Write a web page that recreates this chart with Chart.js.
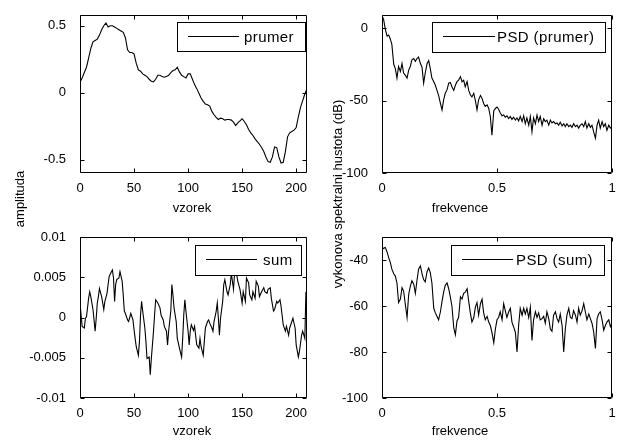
<!DOCTYPE html>
<html>
<head>
<meta charset="utf-8">
<script src="https://cdn.jsdelivr.net/npm/chart.js@4.4.0/dist/chart.umd.min.js"></script>
<style>
html,body{margin:0;padding:0;background:#fff;}
#wrap{position:relative;width:619px;height:441px;overflow:hidden;background:#fff;}
#wrap canvas{position:absolute;left:0;top:0;}
</style>
</head>
<body>
<div id="wrap">
<canvas id="c1" width="619" height="441"></canvas>
<canvas id="c2" width="619" height="441"></canvas>
<canvas id="c3" width="619" height="441"></canvas>
<canvas id="c4" width="619" height="441"></canvas>
</div>
<script>
// ---------- data ----------
const sampleX = [0,2,4,6,8,10,12,14,16,18,20,22,24,26,28,30,32,34,36,38,40,42,44,46,48,50,52,54,56,58,60,62,64,66,68,70,72,74,76,78,80,82,84,86,88,90,92,94,96,98,100,102,104,106,108,110,112,114,116,118,120,122,124,126,128,130,132,134,136,138,140,142,144,146,148,150,152,154,156,158,160,162,164,166,168,170,172,174,176,178,180,182,184,186,188,190,192,194,196,198,200,202,204,206,208,210];
const prumer = [0.08,0.11,0.15,0.19,0.26,0.33,0.38,0.39,0.40,0.43,
0.47,0.50,0.52,0.49,0.50,0.50,0.49,0.48,0.47,0.46,
0.45,0.41,0.32,0.30,0.30,0.29,0.22,0.17,0.16,0.14,
0.13,0.12,0.10,0.085,0.08,0.10,0.13,0.13,0.12,0.115,
0.12,0.13,0.15,0.165,0.17,0.19,0.155,0.13,0.12,0.11,
0.14,0.14,0.10,0.06,0.03,-0.005,-0.04,-0.065,-0.085,-0.09,
-0.10,-0.14,-0.165,-0.185,-0.20,-0.19,-0.195,-0.205,-0.20,-0.20,
-0.205,-0.22,-0.245,-0.225,-0.21,-0.195,-0.215,-0.24,-0.275,-0.30,
-0.32,-0.345,-0.365,-0.385,-0.41,-0.44,-0.48,-0.515,-0.52,-0.48,
-0.405,-0.41,-0.48,-0.525,-0.52,-0.44,-0.33,-0.30,-0.29,-0.28,
-0.26,-0.18,-0.11,-0.06,-0.01,0.03];

const sumX = [0,1,2,4,5,6,8,9,10,12,
13,14,15,16,17,18,20,21,22,23,
25,26,27,28,30,31,32,33,34,36,
37,39,40,41,42,44,45,46,47,49,
50,51,52,54,55,56,57,58,60,61,
62,64,65,66,68,69,70,72,74,75,
77,78,80,81,82,84,85,86,87,89,
90,92,94,95,96,97,98,100,101,102,
103,105,106,108,110,111,112,114,115,116,
118,119,120,122,123,124,126,127,128,129,
130,132,133,134,136,137,139,140,142,143,
145,146,148,150,151,153,154,156,157,159,
160,162,163,165,166,168,170,171,173,174,
176,177,179,180,182,183,185,186,188,190,
191,193,194,196,197,199,200,202,203,205,
206,208,209];
const sum = [0.0018,0.0003,-0.0011,-0.0013,-0.0001,0.0001,0.0024,0.0032,0.0026,0.0010,
-0.0003,-0.0017,-0.0001,0.0018,0.0026,0.0036,0.0026,0.0018,0.0010,0.0020,
0.0030,0.0041,0.0051,0.0054,0.0059,0.0049,0.0020,0.0041,0.0047,0.0049,
0.0057,0.0045,0.0028,0.0008,0.0005,-0.0003,-0.0005,0.0000,0.0005,-0.0003,
-0.0015,-0.0026,-0.0036,-0.0047,-0.0030,0.0003,0.0020,0.0008,-0.0013,-0.0030,
-0.0051,-0.0049,-0.0071,-0.0051,-0.0017,0.0003,0.0022,0.0018,0.0012,0.0003,
-0.0003,-0.0011,-0.0017,-0.0034,-0.0017,0.0008,0.0041,0.0028,0.0012,-0.0005,
-0.0026,-0.0038,-0.0049,-0.0026,0.0003,0.0022,0.0008,-0.0017,-0.0034,-0.0017,
-0.0009,-0.0016,-0.0011,-0.0034,-0.0038,-0.0026,-0.0036,-0.0047,-0.0030,-0.0013,
-0.0005,-0.0003,-0.0007,-0.0013,-0.0017,-0.0005,0.0008,0.0018,-0.0001,-0.0022,
-0.0001,0.0020,0.0041,0.0047,0.0032,0.0028,0.0041,0.0055,0.0035,0.0055,
0.0053,0.0045,0.0035,0.0018,0.0032,0.0020,0.0049,0.0043,0.0028,0.0022,
0.0032,0.0024,0.0045,0.0039,0.0026,0.0032,0.0037,0.0032,0.0030,0.0035,
0.0037,0.0024,0.0008,0.0010,0.0020,0.0018,0.0022,0.0014,-0.0009,-0.0017,
-0.0011,-0.0022,-0.0013,-0.0005,-0.0001,-0.0013,-0.0034,-0.0049,-0.0042,-0.0022,
-0.0017,-0.0026,0.0032];

const freq = [0,0.007,0.014,0.022,0.029,0.036,0.043,0.051,0.058,0.065,
0.072,0.080,0.087,0.094,0.101,0.109,0.116,0.123,0.130,0.138,
0.145,0.152,0.159,0.167,0.174,0.181,0.188,0.196,0.203,0.210,
0.217,0.225,0.232,0.239,0.246,0.254,0.261,0.268,0.275,0.283,
0.290,0.297,0.304,0.312,0.319,0.326,0.333,0.341,0.348,0.355,
0.362,0.370,0.377,0.384,0.391,0.399,0.406,0.413,0.420,0.428,
0.435,0.442,0.449,0.457,0.464,0.471,0.478,0.486,0.493,0.500,
0.507,0.514,0.522,0.529,0.536,0.543,0.551,0.558,0.565,0.572,
0.580,0.587,0.594,0.601,0.609,0.616,0.623,0.630,0.638,0.645,
0.652,0.659,0.667,0.674,0.681,0.688,0.696,0.703,0.710,0.717,
0.725,0.732,0.739,0.746,0.754,0.761,0.768,0.775,0.783,0.790,
0.797,0.804,0.812,0.819,0.826,0.833,0.841,0.848,0.855,0.862,
0.870,0.877,0.884,0.891,0.899,0.906,0.913,0.920,0.928,0.935,
0.942,0.949,0.957,0.964,0.971,0.978,0.986,0.993,1.000];
const psdPrumer = [8.5,6.0,-0.5,-5.5,-4.8,-7.5,-11.5,-25,-28,-34.5,
-26.5,-30,-24.5,-31,-32.5,-34.5,-29,-26.5,-22,-21,
-23,-21,-20,-24.5,-27,-38,-31,-24.5,-22.5,-28,
-34.5,-37,-39.5,-43,-46.5,-52,-56.5,-49.5,-45,-42.5,
-38,-37.5,-40.5,-43,-39.5,-37,-36,-33.5,-37,-36,
-40.5,-37,-43,-46,-47.5,-45,-50,-56.5,-49.5,-46.5,
-48.5,-52,-54,-53,-55.5,-61,-74,-57,-55.5,-54.5,
-56,-58.5,-60.5,-60,-61.5,-60.5,-62.5,-61,-63,-61.5,
-63.5,-62,-64,-61,-64.5,-60.5,-66,-62,-67,-61,
-71.5,-62,-66,-60,-64.5,-61,-67,-62.5,-64.5,-63.5,
-67,-63.5,-65.5,-64.5,-66,-65.5,-67,-65,-67.5,-66,
-68,-66,-68,-67,-68.5,-66,-68,-67,-69,-67,
-66,-68,-64.5,-69,-66,-68.5,-67,-71.5,-76,-67,
-63.5,-69,-64.5,-68,-66,-70.5,-67,-69,-68];
const psdSum = [-34.5,-35,-34.5,-36.5,-39,-41,-44,-46,-47,-50,
-58.5,-57,-52,-53.5,-59,-65,-55,-51.5,-49,-50.5,
-54.5,-49,-44,-42.5,-46,-48.5,-49.5,-45,-43.5,-45.5,
-50,-61,-63,-64.5,-66,-62.5,-58,-54,-51,-50,
-52.5,-56,-60,-69.5,-72.5,-66.5,-65,-56,-57,-54.5,
-54,-52.5,-58,-63,-67,-65,-60.5,-58.5,-64,-59,
-57,-63,-66,-64.5,-67,-68.5,-71.5,-76,-70,-66,
-65,-62.5,-66,-59,-62,-65,-62.5,-61,-67,-69,
-71.5,-80,-68.5,-61,-64,-61,-63.5,-61,-65,-60.5,
-75,-66,-62.5,-65,-63,-66,-65.5,-64.5,-67.5,-62.5,
-65.5,-70,-71,-64,-62.5,-65.5,-67,-63.5,-68.5,-80,
-70,-64,-61,-65,-65.5,-62,-64,-67,-61,-64,
-62,-59,-62.5,-66,-63.5,-65.5,-67.5,-71,-78.5,-65.5,
-63.5,-62.5,-66,-70.5,-68.5,-67,-66,-69,-67.5];

const sampleTicks = [0,50,100,150,200];
const freqTicks = [0,0.5,1];
const prumerTicks = [-0.5,0,0.5];
const sumTicks = [-0.01,-0.005,0,0.005,0.01];
const psdPrumerTicks = [-100,-50,0];
const psdSumTicks = [-100,-80,-60,-40];

const legendNames = ['prumer','PSD (prumer)','sum','PSD (sum)'];
const xTitles = ['vzorek','frekvence'];
const yTitles = ['amplituda','vykonova spektralni hustota (dB)'];

// ---------- rendering ----------
const FF = '"Liberation Sans", Arial, Helvetica, sans-serif';
function fmt(v){ let r = Math.round(v*1e6)/1e6; if (r === 0) r = 0; return String(r); }

function matlabPlugin(cfg){
  return {
    id: 'matlab_' + cfg.id,
    afterDraw(chart){
      const ctx = chart.ctx, ca = chart.chartArea;
      const xs = chart.scales.x, ys = chart.scales.y;
      ctx.save();
      ctx.strokeStyle = '#000'; ctx.lineWidth = 1;
      const L = Math.round(ca.left)+0.5, R = Math.round(ca.right)-0.5;
      const T = Math.round(ca.top)+0.5, B = Math.round(ca.bottom)-0.5;
      ctx.beginPath();
      ctx.rect(L, T, R-L, B-T);
      const tl = 4;
      xs.ticks.forEach(t => {
        const px = Math.round(xs.getPixelForValue(t.value))+0.5;
        ctx.moveTo(px,B); ctx.lineTo(px,B-tl);
        ctx.moveTo(px,T); ctx.lineTo(px,T+tl);
      });
      ys.ticks.forEach(t => {
        const py = Math.round(ys.getPixelForValue(t.value))+0.5;
        ctx.moveTo(L,py); ctx.lineTo(L+tl,py);
        ctx.moveTo(R,py); ctx.lineTo(R-tl,py);
      });
      ctx.stroke();
      // legend
      const lg = cfg.legend;
      ctx.fillStyle = '#fff';
      ctx.fillRect(lg.x, lg.y, lg.w, lg.h);
      ctx.strokeRect(lg.x+0.5, lg.y+0.5, lg.w, lg.h);
      const cy = Math.round(lg.y + lg.h/2) - 0.5;
      ctx.beginPath();
      ctx.moveTo(lg.x+lg.l0, cy); ctx.lineTo(lg.x+lg.l1, cy);
      ctx.stroke();
      ctx.fillStyle = '#000';
      ctx.font = '15px ' + FF;
      ctx.letterSpacing = '0.4px';
      ctx.textAlign = 'left'; ctx.textBaseline = 'middle';
      ctx.fillText(lg.text, lg.x+lg.tx, lg.y + lg.h/2 + 1);
      ctx.letterSpacing = '0px';
      // axis titles
      ctx.font = '13px ' + FF;
      ctx.textAlign = 'center'; ctx.textBaseline = 'middle';
      ctx.fillText(cfg.xlabel.text, cfg.xlabel.x, cfg.xlabel.y);
      if (cfg.ylabel){
        ctx.save();
        ctx.translate(cfg.ylabel.x, cfg.ylabel.y);
        ctx.rotate(-Math.PI/2);
        ctx.fillText(cfg.ylabel.text, 0, 0);
        ctx.restore();
      }
      ctx.restore();
    }
  };
}

function panel(cfg){
  const yW = 60, xH = 24;
  const [bl, bt, br, bb] = cfg.box;
  new Chart(document.getElementById(cfg.id), {
    type: 'scatter',
    data: { datasets: [{
      data: cfg.xs.map((x,i)=>({x:x, y:cfg.ys[i]})),
      showLine: true, borderColor: '#000', borderWidth: 1.1,
      pointRadius: 0, pointHoverRadius: 0, tension: 0, fill: false
    }]},
    options: {
      responsive: false, animation: false, devicePixelRatio: 1, events: [],
      layout: { padding: { left: bl - yW, top: bt, right: 619 - br, bottom: 441 - bb - xH } },
      plugins: { legend: {display:false}, tooltip: {enabled:false}, title: {display:false} },
      scales: {
        x: {
          type: 'linear', min: cfg.xr[0], max: cfg.xr[1],
          grid: {display:false}, border: {display:false},
          afterFit: s => { s.height = xH; },
          afterBuildTicks: s => { s.ticks = cfg.xt.map(v=>({value:v})); },
          ticks: { color:'#000', font:{family:FF, size:13}, padding:0, maxRotation:0, minRotation:0, autoSkip:false, callback: fmt }
        },
        y: {
          type: 'linear', min: cfg.yr[0], max: cfg.yr[1],
          grid: {display:false}, border: {display:false},
          afterFit: s => { s.width = yW; },
          afterBuildTicks: s => { s.ticks = cfg.yt.map(v=>({value:v})); },
          ticks: { color:'#000', font:{family:FF, size:13}, padding:6, autoSkip:false, callback: fmt }
        }
      }
    },
    plugins: [matlabPlugin(cfg)]
  });
}

panel({ id:'c1', box:[80,15,307,173], xs:sampleX, ys:prumer, xr:[0,210], yr:[-0.6,0.58], xt:sampleTicks, yt:prumerTicks,
  legend:{x:177,y:22,w:128,h:29,l0:11,l1:62,tx:67,text:legendNames[0]},
  xlabel:{text:xTitles[0], x:192, y:208},
  ylabel:{text:yTitles[0], x:20, y:199} });
panel({ id:'c2', box:[382,15,612,173], xs:freq, ys:psdPrumer, xr:[0,1], yr:[-100,9], xt:freqTicks, yt:psdPrumerTicks,
  legend:{x:432,y:22,w:173,h:30,l0:11,l1:63,tx:65,text:legendNames[1]},
  xlabel:{text:xTitles[1], x:460, y:208},
  ylabel:{text:yTitles[1], x:338, y:194} });
panel({ id:'c3', box:[80,237,307,398], xs:sumX, ys:sum, xr:[0,210], yr:[-0.01,0.01], xt:sampleTicks, yt:sumTicks,
  legend:{x:195,y:245,w:106,h:30,l0:11,l1:62,tx:68,text:legendNames[2]},
  xlabel:{text:xTitles[0], x:192, y:431} });
panel({ id:'c4', box:[382,237,612,398], xs:freq, ys:psdSum, xr:[0,1], yr:[-100,-30], xt:freqTicks, yt:psdSumTicks,
  legend:{x:451,y:245,w:153,h:30,l0:11,l1:62,tx:65,text:legendNames[3]},
  xlabel:{text:xTitles[1], x:460, y:431} });
</script>
</body>
</html>
